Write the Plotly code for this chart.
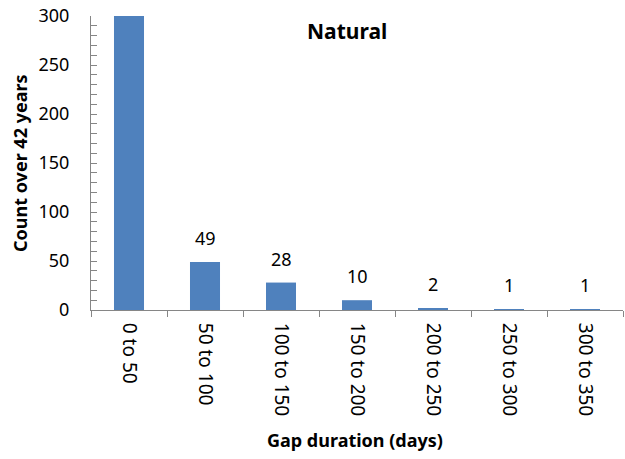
import plotly.graph_objects as go

categories = ["0 to 50", "50 to 100", "100 to 150", "150 to 200",
              "200 to 250", "250 to 300", "300 to 350"]
counts = [620, 49, 28, 10, 2, 1, 1]
labelled = [False, True, True, True, True, True, True]

bar_color = "#4F81BD"
axis_color = "#868686"
font_family = "Noto Sans, Open Sans, sans-serif"
y_max = 300

fig = go.Figure()
fig.add_trace(go.Bar(
    x=categories, y=counts, marker=dict(color=bar_color, line=dict(width=0)),
    cliponaxis=True, hoverinfo="x+y",
))

# value labels above the bars
for cat, val, show in zip(categories, counts, labelled):
    if show and val <= y_max:
        fig.add_annotation(
            x=cat, y=val, text=str(val), showarrow=False,
            yanchor="bottom", yshift=10,
            font=dict(family=font_family, size=18, color="#000000"),
        )

# chart title inside the plot area
fig.add_annotation(
    text="<b>Natural</b>", xref="paper", yref="paper", x=0.481, y=1.005,
    xanchor="center", yanchor="top", showarrow=False,
    font=dict(family=font_family, size=21, color="#000000"),
)

# axis titles
fig.add_annotation(
    text="<b>Gap duration (days)</b>", xref="paper", yref="paper",
    x=0.496, y=-0.442, xanchor="center", yanchor="middle", showarrow=False,
    font=dict(family=font_family, size=18, color="#000000"),
)
fig.add_annotation(
    text="<b>Count over 42 years</b>", xref="paper", yref="paper",
    x=-0.1335, y=0.5, xanchor="center", yanchor="middle", showarrow=False,
    textangle=-90,
    font=dict(family=font_family, size=18, color="#000000"),
)

fig.update_layout(
    width=625, height=459,
    margin=dict(l=91, r=2, t=16, b=149),
    paper_bgcolor="white", plot_bgcolor="white",
    bargap=0.605, showlegend=False,
    font=dict(family=font_family, color="#000000"),
)

fig.update_xaxes(
    type="category", tickangle=90, tickson="boundaries",
    ticks="outside", ticklen=6, tickcolor=axis_color, tickwidth=1,
    ticklabelstandoff=8,
    showline=True, linecolor=axis_color, linewidth=1,
    showgrid=False, zeroline=False,
    tickfont=dict(family=font_family, size=19, color="#000000"),
)

fig.update_yaxes(
    range=[0, y_max], dtick=50, ticks="inside", ticklen=6,
    tickcolor=axis_color, tickwidth=1, ticklabelstandoff=17,
    minor=dict(dtick=10, ticks="inside", ticklen=6, tickcolor=axis_color),
    showline=True, linecolor=axis_color, linewidth=1,
    showgrid=False, zeroline=False,
    tickfont=dict(family=font_family, size=18, color="#000000"),
)

fig.write_html("out.html")
